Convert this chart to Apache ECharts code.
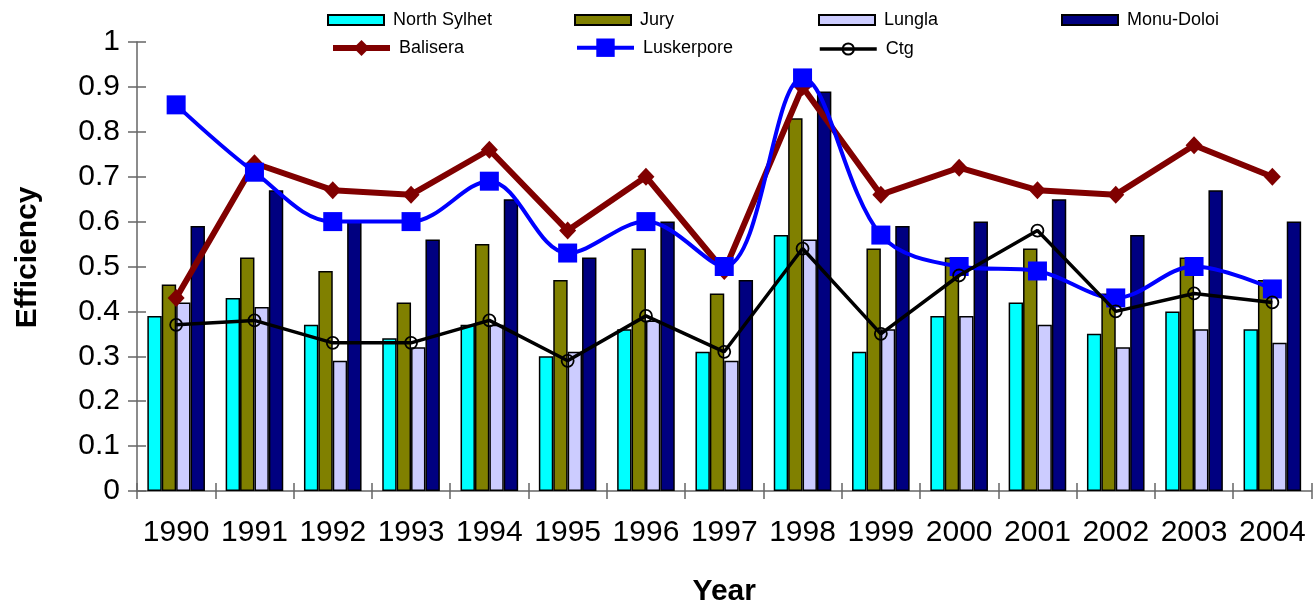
<!DOCTYPE html>
<html>
<head>
<meta charset="utf-8">
<script src="https://cdn.jsdelivr.net/npm/echarts@6/dist/echarts.min.js"></script>
<style>
  html, body { margin: 0; padding: 0; background: #fff; }
  #chart { width: 1314px; height: 603px; }
</style>
</head>
<body>
<div id="chart"></div>
<script>
// Annual efficiency by site, 1990-2004
const years = ['1990','1991','1992','1993','1994','1995','1996','1997','1998','1999','2000','2001','2002','2003','2004'];
const yTicks = [0, 0.1, 0.2, 0.3, 0.4, 0.5, 0.6, 0.7, 0.8, 0.9, 1];

const northSylhet = [0.39,0.43,0.37,0.34,0.37,0.30,0.36,0.31,0.57,0.31,0.39,0.42,0.35,0.40,0.36];
const jury        = [0.46,0.52,0.49,0.42,0.55,0.47,0.54,0.44,0.83,0.54,0.52,0.54,0.44,0.52,0.47];
const lungla      = [0.42,0.41,0.29,0.32,0.37,0.31,0.38,0.29,0.56,0.36,0.39,0.37,0.32,0.36,0.33];
const monuDoloi   = [0.59,0.67,0.60,0.56,0.65,0.52,0.60,0.47,0.89,0.59,0.60,0.65,0.57,0.67,0.60];
const balisera    = [0.43,0.73,0.67,0.66,0.76,0.58,0.70,0.49,0.90,0.66,0.72,0.67,0.66,0.77,0.70];
const luskerpore  = [0.86,0.71,0.60,0.60,0.69,0.53,0.60,0.50,0.92,0.57,0.50,0.49,0.43,0.50,0.45];
const ctg         = [0.37,0.38,0.33,0.33,0.38,0.29,0.39,0.31,0.54,0.35,0.48,0.58,0.40,0.44,0.42];

const FONT = '"Liberation Sans", Arial, Helvetica, sans-serif';
const AXIS_COLOR = '#666';

function barSeries(name, data, color) {
  return {
    name, type: 'bar', data,
    barWidth: 14.4, barGap: '0%',
    itemStyle: { color, borderColor: '#000', borderWidth: 1.5 },
    z: 2
  };
}

// one legend per entry so the entries sit on a fixed column grid
function legendAt(name, left, centerY, w, h, extra) {
  const rowH = Math.max(h, 18);
  return Object.assign({
    data: [name], left, top: centerY - rowH / 2, padding: 0,
    itemWidth: w, itemHeight: h,
    textStyle: { fontFamily: FONT, fontSize: 18, color: '#000', padding: [0, 0, 0, 4] }
  }, extra || {});
}

const chart = echarts.init(document.getElementById('chart'), null, { renderer: 'canvas' });

chart.setOption({
  animation: false,
  backgroundColor: '#fff',
  textStyle: { fontFamily: FONT },
  legend: [
    legendAt('North Sylhet', 327, 20, 56, 10, { icon: 'rect' }),
    legendAt('Jury',         574, 20, 56, 10, { icon: 'rect' }),
    legendAt('Lungla',       818, 20, 56, 10, { icon: 'rect' }),
    legendAt('Monu-Doloi',  1061, 20, 56, 10, { icon: 'rect' }),
    legendAt('Balisera',     330, 49, 57, 20, { lineStyle: { width: 6 } }),
    legendAt('Luskerpore',   575, 50, 57, 23, { lineStyle: { width: 4 } }),
    legendAt('Ctg',          818, 49, 57, 14, { lineStyle: { width: 3.5 } })
  ],
  grid: { left: 137, right: 2.5, top: 42, bottom: 112, outerBoundsMode: 'none', containLabel: false },
  xAxis: [
    {
      type: 'category', data: years, position: 'bottom',
      name: 'Year', nameLocation: 'middle', nameGap: 86,
      nameTextStyle: { fontFamily: FONT, fontSize: 30, fontWeight: 'bold', color: '#000' },
      axisLine: { lineStyle: { color: AXIS_COLOR, width: 1.5 } },
      axisTick: { show: true, length: 8, lineStyle: { color: AXIS_COLOR, width: 1.5 } },
      axisLabel: { fontFamily: FONT, fontSize: 30, color: '#000', margin: 27, interval: 0 },
      splitLine: { show: false }
    },
    {
      // inner half of the crossing category ticks
      type: 'category', data: years, position: 'bottom',
      axisLine: { show: false },
      axisTick: { show: true, inside: true, length: 8, lineStyle: { color: AXIS_COLOR, width: 1.5 } },
      axisLabel: { show: false },
      splitLine: { show: false }
    }
  ],
  yAxis: [
    {
      type: 'value', min: 0, max: 1, interval: 0.1,
      name: 'Efficiency', nameLocation: 'middle', nameGap: 94, nameRotate: 90,
      nameTextStyle: { fontFamily: FONT, fontSize: 30, fontWeight: 'bold', color: '#000', padding: [0, 0, 0, 18] },
      axisLine: { show: true, lineStyle: { color: AXIS_COLOR, width: 1.5 } },
      axisTick: { show: true, length: 9, lineStyle: { color: AXIS_COLOR, width: 1.5 } },
      axisLabel: {
        fontFamily: FONT, fontSize: 30, color: '#000', margin: 17,
        formatter: v => { const t = yTicks.find(k => Math.abs(k - v) < 1e-9); return String(t !== undefined ? t : v); }
      },
      splitLine: { show: false }
    },
    {
      // inner half of the crossing value ticks
      type: 'value', min: 0, max: 1, interval: 0.1, position: 'left',
      axisLine: { show: false },
      axisTick: { show: true, inside: true, length: 9, lineStyle: { color: AXIS_COLOR, width: 1.5 } },
      axisLabel: { show: false },
      splitLine: { show: false }
    }
  ],
  series: [
    barSeries('North Sylhet', northSylhet, '#00FFFF'),
    barSeries('Jury', jury, '#808000'),
    barSeries('Lungla', lungla, '#CCCCFF'),
    barSeries('Monu-Doloi', monuDoloi, '#000080'),
    {
      name: 'Balisera', type: 'line', data: balisera,
      symbol: 'diamond', symbolSize: [17, 18],
      lineStyle: { color: '#800000', width: 6 },
      itemStyle: { color: '#800000' },
      z: 3
    },
    {
      name: 'Luskerpore', type: 'line', data: luskerpore, smooth: 0.35,
      symbol: 'rect', symbolSize: 19,
      lineStyle: { color: '#0000FF', width: 4 },
      itemStyle: { color: '#0000FF' },
      z: 4
    },
    {
      name: 'Ctg', type: 'line', data: ctg,
      symbol: 'circle', symbolSize: 12,
      lineStyle: { color: '#000', width: 3.5 },
      itemStyle: { color: 'rgba(0,0,0,0)', borderColor: '#000', borderWidth: 1.8 },
      z: 5
    }
  ]
});
</script>
</body>
</html>
